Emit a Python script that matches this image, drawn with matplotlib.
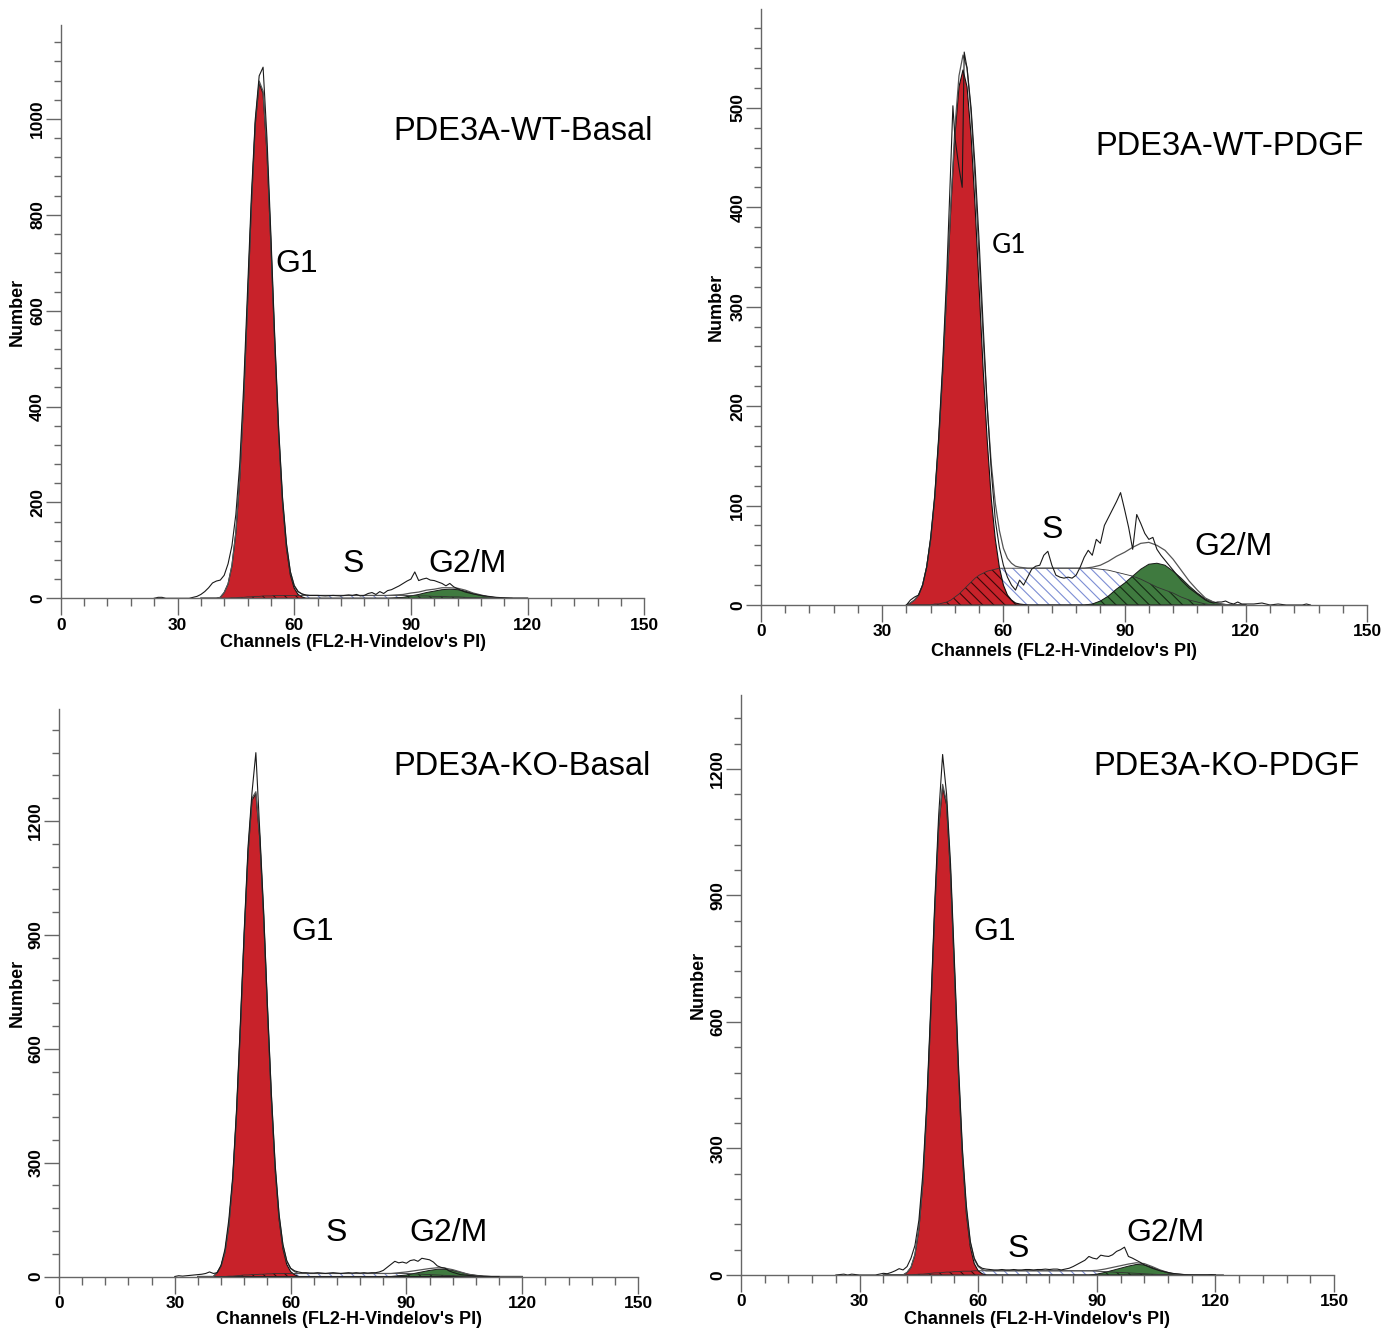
import numpy as np
import matplotlib.pyplot as plt
from matplotlib.ticker import MultipleLocator

plt.rcParams['font.family'] = ['Liberation Sans', 'DejaVu Sans']
plt.rcParams['hatch.linewidth'] = 0.8

W, H = 1396, 1330

# channel grid shared by the fitted model components
chan = list(range(36, 64)) + list(range(64, 122, 2))

# ---- PDE3A-WT-Basal ----
g1_wt_basal = [0, 0, 0, 0, 0, 2, 12, 30, 68, 137, 250, 413, 613, 820, 989, 1075,
               1053, 929, 739, 530, 342, 199, 105, 49, 21, 8, 3, 0] + [0] * 29
s_wt_basal = [0, 0, 0, 0, 0, 0, 0, 0, 1, 1, 2, 2, 3, 3, 4, 4, 5, 5, 5, 6, 6, 6, 6, 6, 6, 6, 6, 6,
              6, 6, 6, 6, 6, 6, 6, 6, 6, 6, 6, 6, 6, 6, 5, 5, 4, 4, 3, 3, 2, 1, 1, 0, 0, 0, 0, 0, 0]
g2_wt_basal = [0] * 28 + [0, 0, 0, 0, 0, 0, 0, 0, 0, 0, 0, 1, 2, 5, 8, 12, 15, 18, 19, 18,
                          15, 10, 6, 3, 1, 0, 0, 0, 0]
raw_x_wt_basal = [24, 25, 26, 27] + list(range(33, 64)) + [64, 66, 68, 70, 72, 74] + \
    list(range(75, 105)) + [106, 108, 110, 112, 114, 116]
raw_wt_basal = [0, 2, 2, 0,
                0, 2, 4, 8, 14, 22, 32, 36, 38, 48, 72, 110, 175, 280, 440, 640, 840, 1000,
                1090, 1108, 960, 760, 545, 355, 210, 115, 56, 26, 14, 9, 7,
                6, 6, 5, 6, 5, 7,
                6, 8, 5, 6, 10, 12, 8, 14, 10, 16, 18, 22, 26, 31, 36, 40, 55, 37, 40, 42,
                38, 37, 34, 31, 26, 31, 24, 20, 16, 13,
                9, 6, 4, 2, 1, 0]

# ---- PDE3A-WT-PDGF ----
g1_wt_pdgf = [0, 2, 5, 10, 20, 38, 66, 107, 165, 236, 318, 400, 472, 521, 538, 521,
              472, 400, 318, 236, 165, 107, 66, 38, 20, 10, 5, 2] + [1] + [0] * 28
s_wt_pdgf = [0, 0, 0, 0, 0, 0, 0, 1, 1, 2, 3, 5, 8, 11, 15, 19, 23, 27, 30, 32, 34, 35, 36, 37,
             37, 37, 37, 37,
             37, 37, 37, 37, 37, 37, 37, 37, 37, 37, 36, 35, 33, 31, 29, 26, 22, 18, 15, 12,
             8, 5, 3, 1, 0, 0, 0, 0, 0]
g2_wt_pdgf = [0] * 28 + [0, 0, 0, 0, 0, 0, 0, 0, 0, 1, 4, 9, 16, 22, 29, 36, 41, 42, 40, 34,
                         27, 19, 12, 6, 3, 1, 0, 0, 0]
raw_x_wt_pdgf = list(range(36, 48)) + [47.5, 48, 49, 49.8, 50.3] + list(range(51, 121)) + \
    [122, 124, 126, 128, 130, 134, 135, 136]
raw_wt_pdgf = [0, 5, 8, 10, 20, 38, 68, 110, 170, 245, 335, 445,
               502, 470, 440, 420, 556,
               540, 500, 440, 365, 280, 200, 135, 85, 58, 40,
               28, 20, 15, 25, 20, 28, 36, 39, 40, 50,
               54, 40, 30, 28, 27, 28, 27, 30, 38, 48,
               55, 50, 66, 62, 80, 88, 96, 104, 113, 96,
               78, 56, 91, 82, 72, 66, 68, 56, 50, 45,
               40, 35, 30, 25, 21, 17, 14, 11, 8, 5,
               3, 2, 3, 3, 4, 2, 1, 3, 1, 1,
               1, 2, 0, 1, 0, 0, 1, 0]

# ---- PDE3A-KO-Basal ----
g1_ko_basal = [0, 0, 0, 0, 0, 11, 28, 64, 134, 252, 428, 655, 900, 1118, 1255, 1272,
               1155, 950, 700, 470, 280, 152, 74, 32, 13, 5, 0, 0] + [0] * 29
s_ko_basal = [0, 0, 0, 0, 0, 0, 0, 0, 1, 1, 2, 3, 4, 4, 5, 5, 6, 6, 7, 7, 8, 8, 8, 8, 8, 8, 8, 8,
              8, 8, 8, 8, 8, 8, 8, 8, 8, 8, 8, 8, 8, 8, 7, 6, 5, 4, 3, 2, 1, 0, 0, 0, 0, 0, 0, 0, 0]
g2_ko_basal = [0] * 28 + [0, 0, 0, 0, 0, 0, 0, 0, 0, 0, 0, 0, 2, 4, 8, 12, 16, 19, 19, 16,
                          11, 6, 3, 1, 0, 0, 0, 0, 0]
raw_x_ko_basal = list(range(30, 115))
raw_ko_basal = [0, 2, 1, 2, 3, 4, 5, 6, 8, 12,
                8, 10, 30, 72, 150, 262, 440, 670, 915, 1135,
                1275, 1380, 1175, 965, 715, 485, 295, 165, 85, 42,
                22, 15, 12, 10, 10, 9, 9, 10, 9, 8,
                9, 10, 9, 8, 9, 10, 9, 10, 9, 10,
                9, 10, 10, 12, 16, 24, 32, 40, 36, 38,
                35, 42, 44, 40, 48, 46, 44, 38, 28, 24,
                22, 15, 11, 8, 5, 4, 3, 2, 1, 1,
                0, 0, 0, 0, 0]

# ---- PDE3A-KO-PDGF ----
g1_ko_pdgf = [0, 0, 0, 0, 0, 0, 6, 18, 48, 109, 219, 392, 618, 861, 1062, 1157,
              1115, 950, 716, 477, 281, 146, 67, 27, 10, 3, 0, 0] + [0] * 29
s_ko_pdgf = [0, 0, 0, 0, 0, 0, 0, 0, 1, 2, 2, 3, 4, 5, 5, 6, 7, 7, 8, 8, 9, 9, 9, 10, 10, 10, 10, 10,
             10, 10, 10, 10, 10, 10, 10, 10, 10, 10, 10, 10, 10, 9, 8, 7, 6, 5, 4, 3, 2, 1, 1,
             0, 0, 0, 0, 0, 0]
g2_ko_pdgf = [0] * 28 + [0, 0, 0, 0, 0, 0, 0, 0, 0, 0, 0, 0, 0, 2, 6, 11, 16, 21, 25, 24,
                         18, 11, 5, 2, 1, 0, 0, 0, 0]
raw_x_ko_pdgf = [24, 26, 27, 28, 30, 34, 35, 36, 37] + list(range(38, 113)) + \
    [114, 116, 118, 119, 120, 122]
raw_ko_pdgf = [0, 2, 0, 2, 0, 0, 2, 4, 3,
               6, 10, 15, 12, 20, 40, 70, 130, 240, 410,
               635, 880, 1090, 1234, 1140, 975, 740, 500, 300, 165,
               80, 40, 22, 16, 14, 13, 12, 12, 13, 12,
               12, 13, 12, 12, 13, 13, 12, 13, 13, 14,
               13, 14, 14, 12, 14, 16, 20, 25, 30, 35,
               44, 40, 38, 47, 45, 44, 48, 56, 60, 66,
               44, 40, 35, 30, 24, 20, 16, 13, 10, 8,
               6, 4, 3, 2, 1,
               0, 0, 0, 1, 0, 0]

titles = ['PDE3A-WT-Basal', 'PDE3A-WT-PDGF', 'PDE3A-KO-Basal', 'PDE3A-KO-PDGF']
series = [
    (g1_wt_basal, s_wt_basal, g2_wt_basal, raw_x_wt_basal, raw_wt_basal),
    (g1_wt_pdgf, s_wt_pdgf, g2_wt_pdgf, raw_x_wt_pdgf, raw_wt_pdgf),
    (g1_ko_basal, s_ko_basal, g2_ko_basal, raw_x_ko_basal, raw_ko_basal),
    (g1_ko_pdgf, s_ko_pdgf, g2_ko_pdgf, raw_x_ko_pdgf, raw_ko_pdgf),
]
x_ticks = [0, 30, 60, 90, 120, 150]
y_ticks = [[0, 200, 400, 600, 800, 1000], [0, 100, 200, 300, 400, 500],
           [0, 300, 600, 900, 1200], [0, 300, 600, 900, 1200]]

# layout in pixels: axes box (left, top, right, bottom), y range
boxes = [(60.8, 25, 644.3, 598.3), (761, 9.3, 1367, 605),
         (59, 709, 638, 1276.5), (741, 695, 1334, 1275)]
ymaxes = [1196, 599, 1495, 1375]
ylabel_x = [17, 716, 17, 698]
xlabel_y = [642, 651, 1320, 1320]
# text centers (x, y) in pixels: title, G1, S, G2/M
text_pos = [
    [(522.7, 128), (297, 261), (353, 560.5), (467, 560.5)],
    [(1230, 143), (1009, 243.4), (1052.5, 527), (1234, 544)],
    [(522, 763), (312.5, 929), (336.5, 1230), (448, 1230)],
    [(1226, 763), (995, 929), (1018, 1246), (1165, 1230)],
]

red = '#c8222a'
green = '#3f7a3f'
blue_hatch = '#7d8ed4'
axis_gray = '#666666'

fig = plt.figure(figsize=(W / 100, H / 100), dpi=100)
x = np.array(chan)

for i in range(4):
    l, t, r, b = boxes[i]
    ax = fig.add_axes([l / W, 1 - b / H, (r - l) / W, (b - t) / H])
    g1, s, g2, rx, ry = [np.array(v, dtype=float) for v in series[i]]
    fit = g1 + s + g2

    # S phase: white with blue hatch, dark hatch where it overlaps G1 / G2
    ax.fill_between(x, 0, s, facecolor='white', edgecolor=blue_hatch,
                    hatch='\\\\\\', linewidth=0, zorder=1)
    ax.fill_between(x, 0, g1, facecolor=red, linewidth=0, zorder=2)
    ax.fill_between(x, 0, g2, facecolor=green, linewidth=0, zorder=2)
    ax.fill_between(x, 0, np.minimum(s, g1), facecolor=red, edgecolor='#3a0808',
                    hatch='\\\\\\', linewidth=0, zorder=3)
    ax.fill_between(x, 0, np.minimum(s, g2), facecolor=green, edgecolor='#142a14',
                    hatch='\\\\\\', linewidth=0, zorder=3)
    ax.plot(x, g1, color='#111111', lw=0.8, zorder=4)
    ax.plot(x, g2, color='#1a1a1a', lw=0.7, zorder=4)
    ax.plot(x, s, color='#333333', lw=0.6, zorder=4)
    ax.plot(x, fit, color='#555555', lw=0.9, zorder=5)
    ax.plot(rx, ry, color='#1a1a1a', lw=0.8, zorder=6)

    ax.set_xlim(0, 150)
    ax.set_ylim(0, ymaxes[i])
    for side in ['top', 'right']:
        ax.spines[side].set_visible(False)
    for side in ['left', 'bottom']:
        ax.spines[side].set_color(axis_gray)
        ax.spines[side].set_linewidth(1.0)
        ax.spines[side].set_zorder(7)

    ax.set_xticks(x_ticks, [str(v) for v in x_ticks], fontweight='bold', fontsize=12.5)
    ax.set_yticks(y_ticks[i], [str(v) for v in y_ticks[i]], fontweight='bold',
                  fontsize=12.5, rotation=90, va='center')
    ax.xaxis.set_minor_locator(MultipleLocator(6))
    ax.yaxis.set_minor_locator(MultipleLocator(y_ticks[i][1] / 5))
    ax.tick_params(axis='x', which='major', length=12, width=1.0, color=axis_gray, pad=2)
    ax.tick_params(axis='x', which='minor', length=6, width=1.0, color=axis_gray)
    ax.tick_params(axis='y', which='major', length=10.8, width=1.0, color=axis_gray, pad=0.5)
    ax.tick_params(axis='y', which='minor', length=5.2, width=1.0, color=axis_gray)

    ax.set_xlabel("Channels (FL2-H-Vindelov's PI)", fontsize=13, fontweight='bold')
    ax.xaxis.label.set_va('center')
    ax.xaxis.set_label_coords(0.5, (b - xlabel_y[i]) / (b - t))
    ax.set_ylabel('Number', fontsize=13, fontweight='bold')
    ax.yaxis.label.set_va('center')
    ax.yaxis.set_label_coords((ylabel_x[i] - l) / (r - l), 0.5)

    (tx, ty), (g1x, g1y), (sx, sy), (gmx, gmy) = text_pos[i]
    fig.text(tx / W, 1 - (ty + 11.7) / H, titles[i], fontsize=23.5,
             ha='center', va='baseline')
    if i == 1:
        fig.text(g1x / W, 1 - (g1y + 9.2) / H, 'G1', fontsize=19,
                 family=['Lato', 'DejaVu Sans'], ha='center', va='baseline')
    else:
        fig.text(g1x / W, 1 - (g1y + 11.4) / H, 'G1', fontsize=23,
                 ha='center', va='baseline')
    fig.text(sx / W, 1 - (sy + 11.4) / H, 'S', fontsize=23, ha='center', va='baseline')
    fig.text(gmx / W, 1 - (gmy + 11.4) / H, 'G2/M', fontsize=23, ha='center', va='baseline')

fig.savefig('out.png', dpi=100)
